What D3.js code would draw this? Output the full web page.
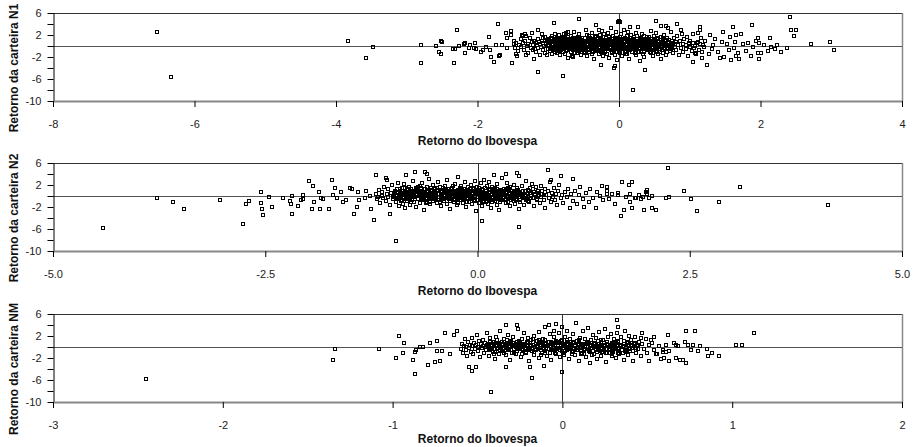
<!DOCTYPE html>
<html>
<head>
<meta charset="utf-8">
<script src="https://cdn.jsdelivr.net/npm/d3@7"></script>
<style>
  body { margin: 0; background: #fff; }
  svg { display: block; font-family: "Liberation Sans", Arial, sans-serif; }
</style>
</head>
<body>
<div id="chart"></div>
<script>
// [retorno do Ibovespa, retorno da carteira]
const n1Points = [
  [-6.53,2.5],[-6.33,-5.7],[-3.83,0.85],[-3.57,-2.1],[-3.47,-0.2],[-2.80,0.2],[-2.80,-3.1],[-2.58,0.0],[-2.54,-1.0],[-2.52,-1.5],
  [-2.51,1.0],[-2.50,0.8],[-2.35,-0.5],[-2.32,-0.5],[-2.33,-3.1],[-2.29,3.0],[-2.26,0.0],[-2.18,0.55],[-2.19,0.3],[-2.17,-1.3],
  [-2.12,-0.4],[-2.11,0.1],[-2.05,-0.4],[-2.03,0.6],[-2.02,-0.5],[-1.95,-1.0],[-1.92,-0.8],[-1.88,-0.2],[-1.84,1.55],[-1.82,-0.7],
  [-1.81,-2.05],[-1.76,-2.9],[-1.74,0.25],[-1.71,4.0],[-1.70,-1.8],[-1.68,-1.7],[-1.65,0.25],[-1.60,2.4],[-1.59,1.45],[-1.59,-0.3],
  [-1.53,2.7],[-1.52,2.0],[-1.51,-3.0],[-1.48,1.0],[-1.46,-1.5],[-1.44,-1.8],[-1.37,2.0],[-1.35,1.8],[-1.33,2.2],[-1.31,1.9],
  [-1.32,-1.6],[-1.23,2.4],[-1.20,-2.3],[-1.15,-4.65],[-1.14,3.0],[-1.09,2.2],[-1.07,1.5],[-1.02,-1.7],[-1.01,1.1],[-0.92,4.25],
  [-0.90,2.2],[-0.86,1.4],[-0.79,-5.45],[-0.78,2.1],[-0.72,2.5],[-0.70,1.3],[-0.65,-2.0],[-0.57,4.85],[-0.45,2.0],[-0.33,3.75],
  [-0.26,-3.4],[-0.28,3.0],[-0.21,2.1],
  [0.0,4.5],[0.02,4.3],[-0.02,4.3],[-0.07,-4.05],[-0.06,-3.6],[0.2,-8.05],[0.15,3.5],[0.37,-4.3],[0.53,4.55],[0.6,3.6],
  [0.66,3.7],[0.82,4.0],[0.88,3.0],[1.04,-2.9],[1.14,3.4],[1.14,2.9],[1.24,-3.4],[1.29,2.0],[1.47,2.55],[1.61,3.4],
  [1.57,1.6],[1.65,2.0],[1.70,-2.3],[1.66,-1.9],[1.72,2.1],[1.88,3.85],[1.93,1.0],[1.98,-2.45],[1.97,1.5],[1.98,0.6],
  [1.97,-1.2],[2.0,-1.3],[2.13,1.45],[2.15,-0.2],[2.29,-1.1],[2.38,-0.4],[2.42,5.2],[2.43,3.0],[2.5,3.0],[2.48,1.8],
  [2.72,0.4],[2.98,0.65],[3.04,-0.8],
  [1.31,-0.6],[1.36,1.3],[1.40,-1.1],[1.43,-2.1],[1.49,-2.0],[1.52,0.4],[1.55,-0.8],[1.58,-2.6],[1.62,-0.4],[1.64,0.8],
  [1.68,-1.2],[1.75,0.3],[1.79,-0.9],[1.83,0.5],[1.86,-1.8],[1.90,-0.2],[2.05,0.2],[2.10,-0.9],[2.20,-0.6],[2.24,0.1],
  [1.45,0.8],[1.33,0.1],[1.27,-1.5],[1.22,1.0],[1.20,-0.2],[1.18,-2.1],[1.10,0.6],[1.08,-1.3],[1.12,2.3],
  [-1.49,0.3],[-1.47,-0.4],[-1.45,0.6],[-1.43,-0.9],[-1.41,0.1],[-1.39,1.2],[-1.38,-0.2],[-1.36,0.5],[-1.34,-0.7],[-1.33,0.9],
  [-1.30,0.0],[-1.29,-1.2],[-1.28,0.4],[-1.26,1.4],[-1.25,-0.3],[-1.23,0.7],[-1.22,-0.8],[-1.21,0.2],[-1.20,1.0],[-1.19,-0.5],
  [-1.18,0.5],[-1.17,-1.1],[-1.16,0.1],[-1.15,1.3],[-1.14,-0.4],[-1.13,0.8],[-1.12,-1.6],[-1.11,0.3],[-1.10,-0.2],[-1.09,1.0],
  [-1.08,0.6],[-1.07,-0.7],[-1.06,0.0],[-1.05,1.6],[-1.04,-1.3],[-1.03,0.4],[-1.02,0.9],[-1.01,-0.5],[-1.00,0.2],[-0.99,1.2],
  [-0.98,-0.9],[-0.97,0.5],[-0.96,-0.1],[-0.95,1.8],[-0.94,-1.5],[-0.93,0.7],[-0.92,-0.3],[-0.91,0.3],[-0.90,1.1],[-0.89,-0.6],
  [-0.88,0.4],[-0.875,-1.2],[-0.87,1.5],[-0.865,0.0],[-0.86,-0.5],[-0.855,0.9],[-0.85,2.0],[-0.845,-0.2],[-0.84,0.6],[-0.835,-1.7],
  [-0.83,0.2],[-0.825,1.2],[-0.82,-0.8],[-0.815,0.5],[-0.81,-0.1],
  [-0.80,0.8],[-0.795,-1.0],[-0.79,0.3],[-0.785,1.6],[-0.78,-0.4],[-0.775,0.1],[-0.77,1.0],[-0.765,-1.4],[-0.76,0.6],[-0.755,-0.1],
  [-0.75,2.3],[-0.745,0.4],[-0.74,-0.7],[-0.735,1.3],[-0.73,0.0],[-0.72,-2.2],[-0.71,0.7],
  [-0.70,-0.3],[-0.695,1.1],[-0.69,0.2],[-0.685,-1.1],[-0.68,0.9],[-0.675,1.9],[-0.67,-0.5],[-0.665,0.4],[-0.66,-1.8],[-0.655,0.0],
  [-0.65,1.4],[-0.645,-0.8],[-0.64,0.6],[-0.635,2.6],[-0.63,-0.2],[-0.62,0.3],[-0.61,1.0],
  [-0.60,-0.6],[-0.595,0.8],[-0.59,-1.3],[-0.585,0.1],[-0.58,1.7],[-0.575,-0.3],[-0.57,0.5],[-0.565,2.2],[-0.56,-0.9],[-0.555,0.3],
  [-0.55,1.2],[-0.545,-0.1],[-0.54,-1.6],[-0.535,0.7],[-0.53,0.0],[-0.52,1.5],[-0.51,-0.4],
  [-0.50,0.9],[-0.495,-0.7],[-0.49,0.2],[-0.485,1.4],[-0.48,-1.2],[-0.475,0.5],[-0.47,2.9],[-0.465,-0.2],[-0.46,0.8],[-0.455,-1.9],
  [-0.45,0.1],[-0.445,1.1],[-0.44,-0.5],[-0.435,0.4],[-0.43,1.8],[-0.42,-1.0],[-0.41,0.6],
  [-0.40,-0.3],[-0.395,1.3],[-0.39,0.3],[-0.385,-1.4],[-0.38,0.7],[-0.375,2.4],[-0.37,-0.6],[-0.365,0.0],[-0.36,1.0],[-0.355,-2.4],
  [-0.35,0.5],[-0.345,-0.1],[-0.34,1.6],[-0.335,-0.9],[-0.33,0.2],[-0.32,0.9],[-0.31,-0.4],
  [-0.30,1.2],[-0.295,-0.8],[-0.29,0.4],[-0.285,-1.5],[-0.28,0.8],[-0.275,2.0],[-0.27,-0.2],[-0.265,0.6],[-0.26,-1.1],[-0.255,1.5],
  [-0.25,0.1],[-0.245,-0.5],[-0.24,2.7],[-0.235,0.3],[-0.23,-1.8],[-0.22,1.0],[-0.21,-0.3],
  [-0.20,0.5],[-0.195,-1.0],[-0.19,1.7],[-0.185,0.0],[-0.18,-0.6],[-0.175,1.1],[-0.17,0.3],[-0.165,-1.4],[-0.16,2.3],[-0.155,0.7],
  [-0.15,-0.2],[-0.145,1.3],[-0.14,-2.1],[-0.135,0.4],[-0.13,0.9],[-0.12,-0.7],[-0.11,3.2],
  [-0.10,0.2],[-0.095,-1.2],[-0.09,1.0],[-0.085,-0.4],[-0.08,1.9],[-0.075,0.6],[-0.07,-0.9],[-0.065,0.1],[-0.06,1.4],[-0.055,-1.7],
  [-0.05,0.8],[-0.045,-0.1],[-0.04,2.5],[-0.035,0.4],[-0.03,-2.6],[-0.02,1.1],[-0.01,-0.5],
  [0.00,0.7],[0.005,-0.8],[0.01,1.6],[0.015,0.2],[0.02,-1.3],[0.025,0.9],[0.03,-0.3],[0.035,2.1],[0.04,0.5],[0.045,-1.9],
  [0.05,1.2],[0.055,0.0],[0.06,-0.6],[0.065,3.0],[0.07,0.3],[0.08,1.5],[0.09,-1.0],
  [0.10,0.4],[0.105,-0.5],[0.11,1.8],[0.115,0.1],[0.12,-1.5],[0.125,0.8],[0.13,2.6],[0.135,-0.2],[0.14,1.1],[0.145,-2.3],
  [0.15,0.6],[0.155,-0.8],[0.16,1.4],[0.165,0.0],[0.17,2.0],[0.18,-1.1],[0.19,0.5],
  [0.20,1.0],[0.205,-0.4],[0.21,0.2],[0.215,1.7],[0.22,-1.2],[0.225,0.6],[0.23,-0.1],[0.235,2.4],[0.24,0.9],[0.245,-1.7],
  [0.25,0.3],[0.255,1.3],[0.26,-0.6],[0.265,0.0],[0.27,3.4],[0.28,0.7],[0.29,-2.8],
  [0.30,0.4],[0.305,1.5],[0.31,-0.9],[0.315,0.1],[0.32,2.2],[0.325,-0.3],[0.33,0.8],[0.335,-1.4],[0.34,1.1],[0.345,0.5],
  [0.35,-0.1],[0.355,1.9],[0.36,-2.0],[0.37,0.3],[0.38,1.3],[0.39,-0.6],
  [0.40,0.9],[0.41,-0.4],[0.42,1.6],[0.43,0.2],[0.44,-1.1],[0.45,0.7],[0.455,2.7],[0.46,-0.2],[0.47,1.2],[0.475,-1.8],
  [0.48,0.4],[0.49,-0.7],[0.495,1.9],
  [0.50,0.1],[0.51,1.0],[0.52,-0.9],[0.525,0.6],[0.53,2.3],[0.54,-0.3],[0.55,1.4],[0.555,-1.5],[0.56,0.3],[0.57,0.8],
  [0.58,-0.5],[0.59,1.7],[0.595,-2.4],
  [0.60,0.5],[0.61,-0.1],[0.62,1.3],[0.625,-1.2],[0.63,0.2],[0.64,2.0],[0.65,-0.6],[0.655,0.9],[0.66,-1.6],[0.67,0.4],
  [0.68,1.5],[0.69,-0.3],[0.695,3.3],
  [0.70,0.0],[0.71,1.1],[0.72,-0.9],[0.73,0.6],[0.74,2.5],[0.75,-0.4],[0.76,0.3],[0.77,-1.3],[0.78,1.4],[0.79,-0.2],
  [0.80,0.7],[0.81,-0.7],[0.82,1.8],[0.83,0.1],[0.85,-1.6],[0.86,0.9],[0.87,-0.3],[0.89,2.1],
  [0.90,0.4],[0.91,-1.1],[0.92,1.2],[0.94,-0.5],[0.95,0.2],[0.96,1.6],[0.97,-1.9],[0.99,0.6],
  [1.00,-0.2],[1.01,1.0],[1.03,-0.9],[1.04,0.5],[1.05,2.2],[1.06,-0.4],[1.07,0.0],[1.09,-1.4],
  [1.11,0.8],[1.13,-0.7],[1.15,0.3],[1.16,1.5],[1.17,-1.1],[1.19,0.1],
  [-0.985,0.0],[-0.965,1.4],[-0.945,-0.6],[-0.925,0.9],[-0.905,-1.0],[-0.885,0.2],[-0.865,1.1],[-0.845,-0.9],[-0.825,0.4],[-0.805,1.3],
  [-0.785,-0.6],[-0.765,0.9],[-0.745,-0.2],[-0.725,1.6],[-0.705,0.3],[-0.685,-0.6],[-0.665,1.2],[-0.645,0.1],[-0.625,-1.2],[-0.605,0.6],
  [-0.585,1.5],[-0.565,-0.5],[-0.545,0.5],[-0.525,-1.0],[-0.505,1.0],[-0.485,0.0],[-0.465,-0.8],[-0.445,0.7],[-0.425,1.3],[-0.405,-0.2],
  [-0.385,0.5],[-0.365,-1.0],[-0.345,0.9],[-0.325,1.8],[-0.305,0.0],[-0.285,-0.7],[-0.265,1.1],[-0.245,0.4],[-0.225,-1.3],[-0.205,0.7],
  [-0.185,1.5],[-0.165,-0.3],[-0.145,0.2],[-0.125,1.2],[-0.105,-1.1],[-0.085,0.6],[-0.065,-0.2],[-0.045,1.3],[-0.025,0.1],[-0.005,-1.1],
  [0.015,0.5],[0.035,1.3],[0.055,-0.4],[0.075,0.8],[0.095,-1.4],[0.115,1.1],[0.135,0.3],[0.155,-0.4],[0.175,1.5],[0.195,-0.2],
  [0.215,0.7],[0.235,-1.0],[0.255,1.9],[0.275,0.2],[0.295,-0.5],[0.315,1.0],[0.335,0.0],[0.355,-1.1],[0.375,0.9],[0.395,1.7],
  [0.415,-0.1],[0.435,0.5],[0.455,-1.3],[0.475,0.9],[0.495,0.2],[0.515,-0.6],[0.535,1.2],[0.555,0.0],[0.575,-1.0],[0.595,0.7],
  [0.615,1.5],[0.635,-0.4],[0.655,0.2],[0.675,-1.0],[0.705,0.7],[0.725,-0.2],[0.745,1.0],[0.765,-0.7],[0.785,0.4],
  [-0.95,0.3],[-0.91,-0.3],[-0.87,0.7],[-0.83,-0.4],[-0.79,1.0],[-0.75,0.1],[-0.71,-0.4],[-0.67,0.5],[-0.63,1.4],[-0.59,-0.2],
  [-0.55,0.7],[-0.51,0.1],[-0.47,-0.4],[-0.43,0.9],[-0.39,-0.6],[-0.35,1.2],[-0.31,0.5],[-0.27,-0.4],[-0.23,0.6],[-0.19,-0.2],
  [-0.15,1.0],[-0.11,0.3],[-0.07,-0.5],[-0.03,0.6],[0.01,-0.4],[0.05,0.3],[0.09,0.9],[0.13,-0.6],[0.17,0.4],[0.21,-0.5],
  [0.25,0.8],[0.29,1.2],[0.33,-0.4],[0.37,0.6],[0.41,-0.8],[0.45,0.1],[0.49,1.1],[0.53,-0.4],[0.57,0.4],[0.61,-0.7],
  [0.65,1.1],[0.69,0.1],[0.73,-0.5],[0.77,0.6],
  [-0.99,0.6],[-0.97,-0.3],[-0.955,1.0],[-0.935,0.1],[-0.915,-0.7],[-0.895,1.3],[-0.875,0.4],[-0.855,-0.4],[-0.835,1.0],[-0.815,-0.3],
  [-0.795,0.5],[-0.775,1.4],[-0.755,-0.9],[-0.735,0.6],[-0.715,0.0],[-0.695,0.8],[-0.675,-0.2],[-0.655,1.1],[-0.635,-0.6],[-0.615,0.2],
  [-0.595,1.2],[-0.575,0.3],[-0.555,-0.7],[-0.535,1.1],[-0.515,0.5],[-0.495,-1.0],[-0.475,0.9],[-0.455,0.2],[-0.435,-0.7],[-0.415,1.4],
  [-0.395,-0.2],[-0.375,0.8],[-0.355,0.1],[-0.335,1.3],[-0.315,-0.8],[-0.295,0.6],[-0.275,-0.1],[-0.255,1.2],[-0.235,-0.9],[-0.215,0.4],
  [-0.195,1.1],[-0.175,-0.5],[-0.155,0.4],[-0.135,1.6],[-0.115,-0.4],[-0.095,0.7],[-0.075,-0.7],[-0.055,0.5],[-0.035,1.4],[-0.015,-0.3],
  [0.005,0.3],[0.025,-0.6],[0.045,1.0],[0.065,-0.1],[0.085,0.7],[0.105,-0.9],[0.125,1.3],[0.145,0.0],[0.165,0.8],[0.185,-0.6],
  [0.205,1.3],[0.225,0.1],[0.245,-0.4],[0.265,0.9],[0.285,-1.0],[0.305,0.6],[0.325,1.3],[0.345,-0.6],[0.365,0.7],[0.385,-0.2],
  [0.405,1.2],[0.425,-0.6],[0.445,0.3],[0.465,1.0],[0.485,-0.4],[0.505,0.6],[0.525,-1.1],[0.545,0.9],[0.565,-0.2],[0.585,0.3]
];

const n2Points = [
  [-4.41,-5.9],[-3.78,-0.35],[-3.59,-1.0],[-3.46,-2.3],[-3.03,-0.65],[-2.76,-5.0],[-2.73,-1.5],[-2.69,-0.85],[-2.55,0.7],[-2.55,-1.3],
  [-2.54,-2.4],[-2.53,-3.5],[-2.45,-0.2],[-2.42,-2.0],[-2.29,-0.35],[-2.21,-0.9],[-2.20,-1.5],[-2.18,-3.3],[-2.19,0.05],[-2.11,-1.9],
  [-2.08,-0.8],[-2.06,-0.5],[-2.05,0.1],
  [-1.98,2.8],[-1.95,-2.3],[-1.94,1.8],[-1.92,-1.0],[-1.87,0.7],[-1.85,-2.3],[-1.84,-0.3],[-1.82,-0.6],[-1.75,-2.3],[-1.71,3.0],
  [-1.70,0.1],[-1.68,1.4],[-1.66,-0.3],[-1.61,0.8],[-1.59,-1.15],[-1.55,-0.65],[-1.50,1.5],[-1.48,1.2],[-1.46,-3.3],[-1.42,-2.0],
  [-1.41,0.8],[-1.39,-0.65],[-1.33,-0.4],[-1.31,0.9],[-1.27,0.05],[-1.26,-2.4],[-1.22,-4.4],[-1.20,3.8],[-1.17,-0.2],[-1.08,3.3],
  [-1.07,3.0],[-1.03,-3.3],[-0.96,-8.2],[-0.84,3.9],[-0.74,4.3],[-0.62,4.4],[-0.60,4.0],
  [0.05,-4.6],[0.49,-5.7],[0.47,4.2],[0.33,4.0],[0.83,4.7],[0.98,3.7],[0.87,2.9],[1.12,3.1],[1.47,1.8],[1.52,1.7],
  [1.70,2.6],[1.82,2.6],[1.79,2.0],[1.65,0.6],[1.53,0.4],[2.24,5.1],[2.43,0.85],[2.51,-0.5],[2.59,-2.8],[2.84,-1.0],
  [3.09,1.6],[4.13,-1.7],[2.22,-0.4],[2.25,-0.2],[2.02,-0.3],[2.05,0.0],[1.99,0.8],[2.0,1.1],[1.72,-2.6],[1.69,-3.6],
  [1.82,-2.2],[1.96,-2.6],[2.05,-2.2],[2.10,-2.6],[1.87,-0.3],[1.92,-0.5],[1.80,-1.1],
  [-1.19,0.4],[-1.18,-0.6],[-1.16,1.1],[-1.15,-1.3],[-1.13,0.0],[-1.12,0.8],[-1.11,-0.3],[-1.10,1.6],
  [-1.08,-0.9],[-1.07,0.3],[-1.06,1.3],[-1.05,-0.1],[-1.03,-1.7],[-1.02,0.6],[-1.01,2.0],[-1.00,-0.5],
  [-0.98,0.2],[-0.97,1.0],[-0.96,-1.1],[-0.95,0.5],[-0.94,2.4],[-0.93,-0.2],[-0.92,-1.8],[-0.91,0.9],
  [-0.90,0.1],[-0.895,-0.7],[-0.89,1.4],[-0.88,0.5],[-0.875,-1.4],[-0.87,2.1],[-0.86,-0.2],[-0.855,0.8],[-0.85,-2.2],[-0.84,0.3],
  [-0.835,1.1],[-0.83,-0.9],[-0.82,0.0],[-0.81,1.7],
  [-0.80,-0.4],[-0.795,0.6],[-0.79,-1.6],[-0.78,1.2],[-0.775,0.2],[-0.77,-0.8],[-0.76,2.7],[-0.755,0.4],[-0.75,-1.1],[-0.74,0.9],
  [-0.735,-0.2],[-0.73,1.5],[-0.72,-2.0],[-0.71,0.1],
  [-0.70,1.0],[-0.695,-0.5],[-0.69,0.3],[-0.68,1.9],[-0.675,-1.3],[-0.67,0.7],[-0.66,-0.1],[-0.655,2.3],[-0.65,-0.8],[-0.64,0.5],
  [-0.635,-2.5],[-0.63,1.2],[-0.62,0.0],[-0.61,-0.6],
  [-0.60,0.8],[-0.595,-1.0],[-0.59,1.6],[-0.58,0.2],[-0.575,-0.4],[-0.57,3.1],[-0.56,0.6],[-0.555,-1.5],[-0.55,1.1],[-0.54,-0.2],
  [-0.535,0.4],[-0.53,2.0],[-0.52,-0.9],[-0.51,0.1],
  [-0.50,-0.3],[-0.495,1.3],[-0.49,0.5],[-0.48,-1.2],[-0.475,0.9],[-0.47,-0.1],[-0.46,2.6],[-0.455,-0.7],[-0.45,0.3],[-0.44,1.7],
  [-0.435,-1.9],[-0.43,0.7],[-0.42,0.0],[-0.41,-0.5],
  [-0.40,1.1],[-0.395,0.2],[-0.39,-0.9],[-0.38,1.8],[-0.375,-0.3],[-0.37,0.6],[-0.36,-1.4],[-0.355,2.9],[-0.35,0.4],[-0.34,-0.6],
  [-0.33,1.3],[-0.325,0.0],[-0.32,-2.3],[-0.31,0.9],
  [-0.30,-0.2],[-0.295,1.5],[-0.29,0.3],[-0.28,-1.1],[-0.275,0.8],[-0.27,2.2],[-0.26,-0.5],[-0.255,0.1],[-0.25,1.0],[-0.24,-1.7],
  [-0.235,0.5],[-0.23,3.5],[-0.22,-0.3],[-0.21,1.4],[-0.205,0.0],
  [-0.20,-0.8],[-0.195,0.7],[-0.19,1.9],[-0.18,-0.1],[-0.175,-1.3],[-0.17,0.4],[-0.16,1.2],[-0.155,-0.6],[-0.15,2.5],[-0.14,0.2],
  [-0.135,-2.0],[-0.13,0.9],[-0.12,-0.3],[-0.11,1.6],[-0.105,0.5],
  [-0.10,-1.0],[-0.095,0.1],[-0.09,1.3],[-0.08,-0.4],[-0.075,2.0],[-0.07,0.6],[-0.06,-1.5],[-0.055,0.3],[-0.05,1.0],[-0.04,-0.7],
  [-0.035,2.8],[-0.03,0.0],[-0.02,-2.7],[-0.01,0.8],[-0.005,1.7],
  [0.00,-0.2],[0.01,0.5],[0.015,-1.2],[0.02,1.5],[0.03,0.1],[0.035,-0.6],[0.04,2.3],[0.05,0.7],[0.055,-1.8],[0.06,0.3],
  [0.07,1.1],[0.075,-0.3],[0.08,3.0],[0.09,0.4],[0.095,-1.0],
  [0.10,0.9],[0.105,-0.5],[0.11,1.9],[0.12,0.0],[0.125,-1.4],[0.13,0.6],[0.14,2.6],[0.145,-0.2],[0.15,1.2],[0.16,-2.2],
  [0.165,0.3],[0.17,1.6],[0.18,-0.8],[0.19,0.8],[0.195,3.8],
  [0.20,0.1],[0.205,-0.9],[0.21,1.4],[0.22,0.5],[0.225,-1.6],[0.23,2.1],[0.24,-0.3],[0.245,0.9],[0.25,-2.6],[0.26,0.2],
  [0.27,1.1],[0.28,-0.6],[0.29,3.3],[0.295,0.6],
  [0.30,-0.4],[0.31,1.3],[0.32,0.2],[0.33,-1.2],[0.34,0.8],[0.35,2.4],[0.36,-0.1],[0.37,0.5],[0.38,-1.9],[0.385,1.7],
  [0.39,0.0],[0.395,-0.7],
  [0.40,1.0],[0.41,-0.3],[0.42,0.4],[0.43,2.0],[0.44,-1.4],[0.45,0.7],[0.46,-0.5],[0.47,1.5],[0.48,0.1],[0.485,-2.3],
  [0.49,3.6],[0.495,0.6],
  [0.50,-0.8],[0.51,0.3],[0.52,1.8],[0.53,-0.2],[0.54,0.9],[0.55,-1.6],[0.56,0.2],[0.57,2.7],[0.58,-0.6],[0.59,1.1],[0.595,-0.1],
  [0.60,0.5],[0.61,-1.1],[0.62,1.4],[0.63,0.0],[0.64,2.2],[0.65,-0.4],[0.66,0.8],[0.67,-1.8],[0.68,0.3],[0.69,1.6],
  [0.70,-0.5],[0.71,0.9],[0.73,0.1],[0.74,-1.3],[0.75,1.9],[0.76,0.4],[0.78,-0.7],[0.79,1.2],
  [0.80,-2.1],[0.81,0.2],[0.83,1.0],[0.84,-0.3],[0.85,2.5],[0.86,-1.1],[0.88,0.6],[0.89,-0.1],
  [0.90,1.4],[0.91,-0.8],[0.93,0.3],[0.94,-1.7],[0.95,0.9],[0.96,2.0],[0.98,-0.4],[0.99,0.1],
  [1.01,-1.3],[1.03,0.7],[1.05,-0.2],[1.07,1.3],[1.09,-2.1],[1.10,0.4],[1.13,-0.9],[1.15,0.9],[1.17,-1.5],[1.19,0.2],
  [1.21,1.6],[1.24,-0.6],[1.26,-2.0],[1.28,0.5],[1.31,-1.0],[1.33,1.2],[1.36,-0.3],[1.39,-2.2],[1.41,0.8],[1.44,0.0],
  [1.48,-0.7],[1.52,1.0],[1.55,-0.5],[1.58,0.3],[1.62,-1.4],[1.65,0.1],[1.75,-0.2],[1.80,0.4],[1.85,-0.3],[1.90,0.2],
  [1.95,-0.2],[2.0,0.3],
  [-0.985,0.5],[-0.965,-0.4],[-0.945,1.2],[-0.925,0.0],[-0.905,-0.9],[-0.885,0.9],[-0.865,0.3],[-0.845,-0.5],[-0.825,1.3],[-0.805,0.2],
  [-0.785,-1.0],[-0.765,0.8],[-0.745,0.0],[-0.725,1.1],[-0.705,-0.6],[-0.685,0.5],[-0.665,1.5],[-0.645,-0.3],[-0.625,0.4],[-0.605,-1.2],
  [-0.585,0.9],[-0.565,0.0],[-0.545,1.4],[-0.525,-0.5],[-0.505,0.6],[-0.485,-0.1],[-0.465,1.1],[-0.445,-1.0],[-0.425,0.4],[-0.405,1.5],
  [-0.385,-0.4],[-0.365,0.2],[-0.345,1.0],[-0.325,-0.9],[-0.305,0.5],[-0.285,1.8],[-0.265,-0.2],[-0.245,0.7],[-0.225,-1.2],[-0.205,0.3],
  [-0.185,1.2],[-0.165,-0.4],[-0.145,0.6],[-0.125,-1.1],[-0.105,1.0],[-0.085,0.1],[-0.065,-0.5],[-0.045,1.5],[-0.025,0.4],[-0.005,-0.8],
  [0.015,0.9],[0.035,0.0],[0.055,1.3],[0.075,-0.9],[0.095,0.5],[0.115,-0.3],[0.135,1.1],[0.155,0.2],[0.175,-1.1],[0.195,0.7],
  [0.215,-0.2],[0.235,1.3],[0.255,0.4],[0.275,-0.8],[0.295,0.8],[0.315,-0.1],[0.335,1.2],[0.355,-1.0],[0.375,0.3],[0.395,1.0],
  [0.415,-0.6],[0.435,0.6],[0.455,-0.1],[0.475,1.1],[0.495,-1.0],[0.515,0.4],[0.535,-0.4],[0.555,1.0],[0.575,0.0],[0.595,-0.9],
  [0.615,0.6],[0.635,-0.3],[0.655,1.2],[0.675,0.2],[0.705,-0.8],[0.725,0.5],[0.745,-0.2],[0.765,1.0],[0.785,0.1],
  [-0.95,-0.3],[-0.91,0.6],[-0.87,-0.2],[-0.83,0.7],[-0.79,0.0],[-0.75,0.5],[-0.71,1.3],[-0.67,-0.4],[-0.63,0.8],[-0.59,0.1],
  [-0.55,-0.6],[-0.51,0.9],[-0.47,0.3],[-0.43,-0.3],[-0.39,0.6],[-0.35,-0.2],[-0.31,1.2],[-0.27,0.1],[-0.23,-0.6],[-0.19,0.5],
  [-0.15,-0.1],[-0.11,0.8],[-0.07,-0.3],[-0.03,0.4],[0.01,1.1],[0.05,-0.4],[0.09,0.2],[0.13,-0.7],[0.17,0.9],[0.21,0.0],
  [0.25,-0.5],[0.29,0.2],[0.33,-0.5],[0.37,1.3],[0.41,0.3],[0.45,-0.8],[0.49,0.5],[0.53,0.0],[0.57,-0.7],[0.61,0.9],
  [-0.99,-0.2],[-0.97,0.8],[-0.955,0.1],[-0.935,-0.6],[-0.915,1.2],[-0.895,0.3],[-0.875,-0.4],[-0.855,1.5],[-0.835,-0.1],[-0.815,0.6],
  [-0.795,-0.7],[-0.775,1.0],[-0.755,0.2],[-0.735,-0.5],[-0.715,0.8],[-0.695,1.6],[-0.675,0.0],[-0.655,-0.6],[-0.635,0.6],[-0.615,1.3],
  [-0.595,-0.3],[-0.575,0.4],[-0.555,-1.0],[-0.535,0.9],[-0.515,0.2],[-0.495,-0.6],[-0.475,1.4],[-0.455,0.4],[-0.435,-0.2],[-0.415,0.9],
  [-0.395,-0.6],[-0.375,1.1],[-0.355,0.0],[-0.335,0.6],[-0.315,-0.5],[-0.295,0.9],[-0.275,-0.8],[-0.255,0.5],[-0.235,1.1],[-0.215,-0.1],
  [-0.195,0.3],[-0.175,-0.8],[-0.155,1.0],[-0.135,0.1],[-0.115,-0.5],[-0.095,0.9],[-0.075,-0.1],[-0.055,1.2],[-0.035,-0.9],[-0.015,0.3],
  [0.005,0.9],[0.025,-0.4],[0.045,0.4],[0.065,-1.0],[0.085,1.4],[0.105,0.2],[0.125,-0.6],[0.145,0.7],[0.165,-0.3],[0.185,1.2],
  [0.205,0.4],[0.225,-0.5],[0.245,0.6],[0.265,-1.1],[0.285,1.0],[0.305,0.1],[0.325,-0.7],[0.345,0.5],[0.365,1.4],[0.385,-0.4],
  [0.405,0.5],[0.425,-0.9],[0.445,0.9],[0.465,0.0],[0.485,0.7]
];

const nmPoints = [
  [-2.45,-5.9],[-1.34,-0.35],[-1.35,-2.35],[-1.08,-0.35],[-0.96,2.0],[-0.98,-2.05],[-0.94,-1.15],[-0.93,0.8],[-0.88,-2.35],[-0.87,-4.9],
  [-0.87,-0.9],[-0.86,-0.5],[-0.84,-0.05],[-0.82,0.0],[-0.79,-3.3],[-0.78,0.8],[-0.75,-2.65],[-0.74,1.1],[-0.74,-0.8],[-0.72,-2.55],
  [-0.71,-0.8],[-0.69,2.5],[-0.66,-1.2],[-0.64,2.1],[-0.62,2.9],[-0.53,-4.4],[-0.51,-3.6],[-0.55,-3.6],[-0.42,-8.2],[-0.33,4.05],
  [-0.27,4.05],[-0.33,-3.6],[-0.18,-5.6],[-0.19,-3.6],[-0.11,-3.5],[0.0,-4.5],[-0.08,4.0],[-0.05,3.0],[-0.02,2.6],[0.0,3.7],
  [0.32,4.9],[0.33,3.7],[0.73,3.0],[0.78,3.0],[0.62,2.1],[1.13,2.6],[1.02,0.45],[1.06,0.45],[0.85,-0.3],[0.92,-1.6],
  [0.88,-1.0],[0.86,-1.6],[0.81,0.2],[0.77,0.45],[0.76,-0.6],[0.73,-2.85],[0.71,-2.4],[0.67,0.45],[0.68,0.1],[0.67,-2.0],
  [0.69,-2.3],[0.63,-0.65],[0.59,-0.9],[0.61,-0.9],[0.58,-2.1],[0.60,-2.0],[0.55,-1.3],[0.51,-2.5],[0.63,-2.5],[0.52,1.25],
  [0.54,1.75],[0.47,2.6],[0.46,1.6],
  [-0.60,-0.3],[-0.59,0.6],[-0.585,-1.0],[-0.58,0.2],[-0.575,1.4],[-0.57,-0.5],[-0.565,0.0],[-0.56,-1.6],
  [-0.555,0.9],[-0.55,-0.2],[-0.545,0.4],[-0.54,-0.9],[-0.535,1.6],[-0.53,0.1],[-0.525,-1.3],[-0.52,0.7],
  [-0.515,-0.4],[-0.51,0.3],[-0.505,2.2],[-0.50,-0.7],[-0.495,0.0],[-0.49,1.1],[-0.485,-1.9],[-0.48,0.5],
  [-0.475,-0.2],[-0.47,1.3],[-0.465,0.2],[-0.46,-1.1],[-0.455,0.8],[-0.45,-0.5],[-0.445,2.6],[-0.44,0.0],[-0.435,-1.6],[-0.43,0.6],
  [-0.425,1.7],[-0.42,-0.3],
  [-0.415,0.4],[-0.41,-0.9],[-0.405,1.0],[-0.40,0.1],[-0.395,-2.1],[-0.39,1.9],[-0.385,-0.4],[-0.38,0.7],[-0.375,-1.2],[-0.37,0.2],
  [-0.365,2.9],[-0.36,-0.1],
  [-0.355,0.9],[-0.35,-0.7],[-0.345,1.5],[-0.34,0.3],[-0.335,-1.5],[-0.33,0.6],[-0.325,-0.2],[-0.32,2.2],[-0.315,0.0],[-0.31,-2.4],
  [-0.305,1.1],[-0.30,-0.5],
  [-0.295,0.4],[-0.29,1.8],[-0.285,-0.9],[-0.28,0.2],[-0.275,-1.3],[-0.27,1.0],[-0.265,0.0],[-0.26,3.3],[-0.255,-0.4],[-0.25,0.7],
  [-0.245,-1.8],[-0.24,1.4],
  [-0.235,0.1],[-0.23,-0.6],[-0.225,2.5],[-0.22,0.5],[-0.215,-1.1],[-0.21,0.9],[-0.205,-0.2],[-0.20,1.7],[-0.195,-2.6],[-0.19,0.3],
  [-0.185,1.2],[-0.18,-0.8],
  [-0.175,0.4],[-0.17,-1.4],[-0.165,2.0],[-0.16,0.0],[-0.155,-0.5],[-0.15,1.1],[-0.145,0.6],[-0.14,-2.0],[-0.135,2.8],[-0.13,-0.2],
  [-0.125,0.8],[-0.12,-1.0],
  [-0.115,1.5],[-0.11,0.2],[-0.105,-0.7],[-0.10,3.6],[-0.095,0.5],[-0.09,-1.6],[-0.085,1.0],[-0.08,-0.3],[-0.075,2.3],[-0.07,0.1],
  [-0.065,-2.3],[-0.06,0.7],
  [-0.055,-0.6],[-0.05,1.8],[-0.045,0.3],[-0.04,-1.2],[-0.035,4.1],[-0.03,0.9],[-0.025,-0.1],[-0.02,2.6],[-0.015,-1.8],[-0.01,0.4],
  [-0.005,1.3],[0.0,-0.8],
  [0.005,0.6],[0.01,-1.5],[0.015,1.9],[0.02,0.0],[0.025,3.0],[0.03,-0.5],[0.035,0.9],[0.04,-2.1],[0.045,1.4],[0.05,0.2],
  [0.055,-0.9],[0.06,2.4],
  [0.065,-0.2],[0.07,0.7],[0.075,-1.4],[0.08,4.3],[0.085,1.1],[0.09,-0.6],[0.095,0.3],[0.10,-2.5],[0.105,1.7],[0.11,0.0],
  [0.115,-1.0],[0.12,2.9],
  [0.125,0.5],[0.13,-0.3],[0.135,1.5],[0.14,-1.9],[0.145,0.8],[0.15,3.5],[0.155,-0.7],[0.16,0.2],[0.165,-2.9],[0.17,1.2],
  [0.175,-0.1],[0.18,2.1],
  [0.185,-1.2],[0.19,0.6],[0.195,-0.4],[0.20,1.6],[0.205,-2.2],[0.21,0.1],[0.215,2.7],[0.22,-0.8],[0.225,0.9],[0.23,-1.6],
  [0.235,0.3],[0.24,1.3],
  [0.245,-0.5],[0.25,3.2],[0.255,-2.7],[0.26,0.6],[0.265,-1.1],[0.27,1.9],[0.275,0.0],[0.28,-0.4],[0.285,2.3],[0.29,-1.7],
  [0.295,0.8],
  [0.30,-0.9],[0.305,1.4],[0.31,0.2],[0.315,-2.0],[0.32,2.6],[0.325,-0.3],[0.33,0.9],[0.335,-1.3],[0.34,0.4],[0.345,1.8],
  [0.35,-0.6],[0.355,0.1],[0.36,-2.3],[0.365,1.1],[0.37,3.0],[0.375,-0.2],[0.38,0.7],[0.385,-1.5],[0.39,2.0],[0.395,0.3],
  [0.40,-0.8],[0.405,1.3],[0.41,-0.1],[0.415,-2.6],[0.42,0.6],[0.43,1.9],[0.435,-1.1],[0.44,0.2],[0.445,-0.4],[0.45,1.0],
  [0.46,-1.7],[0.47,0.5],[0.48,-0.3],[0.49,1.5],[0.50,-1.0],[0.51,0.3],
  [0.53,0.8],[0.54,-0.5],[0.56,-1.3],[0.57,0.1],[0.59,-0.6],[0.61,0.4],[0.66,0.7],[0.72,1.0],[0.74,0.3],[0.80,-0.7],
  [-0.445,0.3],[-0.435,-0.6],[-0.425,0.9],[-0.415,-0.1],[-0.405,0.5],[-0.395,-0.9],[-0.385,1.2],[-0.375,0.1],[-0.365,-0.5],[-0.355,0.6],
  [-0.345,-1.1],[-0.335,0.2],[-0.325,1.3],[-0.315,-0.4],[-0.305,0.5],[-0.295,-1.0],[-0.285,0.8],[-0.275,0.0],[-0.265,-0.7],[-0.255,1.1],
  [-0.245,0.3],[-0.235,-1.2],[-0.225,0.6],[-0.215,-0.1],[-0.205,1.0],[-0.195,-0.6],[-0.185,0.2],[-0.175,1.4],[-0.165,-0.9],[-0.155,0.5],
  [-0.145,-0.3],[-0.135,0.9],[-0.125,-1.4],[-0.115,0.3],[-0.105,1.2],[-0.095,-0.4],[-0.085,0.4],[-0.075,-1.1],[-0.065,0.9],[-0.055,0.0],
  [-0.045,-0.8],[-0.035,1.1],[-0.025,0.3],[-0.015,-0.5],[-0.005,0.8],[0.005,-1.0],[0.015,0.2],[0.025,1.2],[0.035,-0.3],[0.045,0.5],
  [0.055,-1.3],[0.065,0.9],[0.075,0.1],[0.085,-0.6],[0.095,1.3],[0.105,-0.2],[0.115,0.6],[0.125,-1.2],[0.135,0.2],[0.145,1.0],
  [0.155,-0.5],[0.165,0.4],[0.175,-1.5],[0.185,0.8],[0.195,0.0],[0.205,-0.9],[0.215,0.5],[0.225,1.3],[0.235,-0.4],[0.245,0.2],
  [0.255,-1.0],[0.265,0.9],[0.275,-0.3],[0.285,0.4],[0.295,-1.3],[0.305,0.6],[0.315,-0.2],[0.325,1.1],[0.335,-0.7],[0.345,0.3],
  [0.355,-1.0],[0.365,0.5],[0.375,-0.5],[0.385,0.9],[0.395,-0.3],[0.405,0.3],[0.415,-0.8],[0.425,0.7],[0.435,-0.2],[0.445,0.4],
  [-0.43,-0.2],[-0.39,0.4],[-0.35,-0.3],[-0.31,0.8],[-0.27,-0.3],[-0.23,0.3],[-0.19,-0.3],[-0.15,0.2],[-0.11,-0.2],[-0.07,0.5],
  [-0.03,-0.3],[0.01,0.4],[0.05,-0.4],[0.09,0.6],[0.13,-0.6],[0.17,0.3],[0.21,-0.5],[0.25,0.4],[0.29,-0.6],[0.33,0.2],
  [0.37,-0.7],[0.41,0.1],
  [-0.44,0.6],[-0.428,-0.4],[-0.416,0.2],[-0.404,-1.2],[-0.392,0.8],[-0.38,-0.2],[-0.368,0.5],[-0.356,-0.8],[-0.344,1.0],[-0.332,0.0],
  [-0.32,-0.6],[-0.308,0.9],[-0.296,0.1],[-0.284,-1.0],[-0.272,0.6],[-0.26,-0.2],[-0.248,1.0],[-0.236,-0.4],[-0.224,0.2],[-0.212,-0.9],
  [-0.2,0.7],[-0.188,-0.1],[-0.176,0.9],[-0.164,-0.6],[-0.152,0.1],[-0.14,1.2],[-0.128,-0.5],[-0.116,0.6],[-0.104,-1.1],[-0.092,0.2],
  [-0.08,1.0],[-0.068,-0.4],[-0.056,0.4],[-0.044,-1.0],[-0.032,0.7],[-0.02,-0.1],[-0.008,1.1],[0.004,0.1],[0.016,-0.7],[0.028,0.6],
  [0.04,-0.1],[0.052,1.0],[0.064,-0.8],[0.076,0.4],[0.088,-0.2],[0.1,0.9],[0.112,-1.2],[0.124,0.3],[0.136,-0.4],[0.148,0.6],
  [0.16,-0.9],[0.172,0.7],[0.184,0.0],[0.196,-0.6],[0.208,1.1],[0.22,0.2],[0.232,-0.9],[0.244,0.7],[0.256,-0.3],[0.268,0.4],
  [0.28,-1.1],[0.292,0.5],[0.304,-0.4],[0.316,0.8],[0.328,-1.0],[0.34,0.1],[0.352,-0.5],[0.364,0.6],[0.376,-0.9],[0.388,0.4],
  [0.40,-0.4],[0.412,0.8]
];

const n1XTicks = [-8, -6, -4, -2, 0, 2, 4];
const n2XTicks = [-5, -2.5, 0, 2.5, 5];
const nmXTicks = [-3, -2, -1, 0, 1, 2];
const yTicks = [6, 4, 2, 0, -2, -4, -6, -8, -10];
const yTickLabels = [6, 2, -2, -6, -10];

const panels = [
  { points: n1Points, xDomain: [-8, 4], xTicks: n1XTicks, fmt: d => String(d), yTitle: "Retorno da carteira N1", top: 13 },
  { points: n2Points, xDomain: [-5, 5], xTicks: n2XTicks, fmt: d => d.toFixed(1), yTitle: "Retorno da carteira N2", top: 163 },
  { points: nmPoints, xDomain: [-3, 2], xTicks: nmXTicks, fmt: d => String(d), yTitle: "Retorno da carteira NM", top: 314 }
];

const width = 913, height = 447;
const left = 53, right = 902, plotH = 88;
const font = "'Liberation Sans', Arial, sans-serif";

const svg = d3.select("#chart").append("svg")
  .attr("width", width).attr("height", height);

panels.forEach(p => {
  const x = d3.scaleLinear().domain(p.xDomain).range([left, right]);
  const y = d3.scaleLinear().domain([-10, 6]).range([p.top + plotH, p.top]);
  const g = svg.append("g");

  // frame: top and right
  g.append("line")
    .attr("x1", left).attr("x2", right).attr("y1", y(6) + 0.5).attr("y2", y(6) + 0.5)
    .attr("stroke", "#333").attr("stroke-width", 1);
  g.append("line")
    .attr("x1", right + 0.5).attr("x2", right + 0.5).attr("y1", y(6)).attr("y2", y(-10))
    .attr("stroke", "#888").attr("stroke-width", 1.5);

  // zero lines
  g.append("line")
    .attr("x1", left).attr("x2", right).attr("y1", Math.round(y(0)) + 0.5).attr("y2", Math.round(y(0)) + 0.5)
    .attr("stroke", "#555").attr("stroke-width", 1.2);
  g.append("line")
    .attr("x1", Math.round(x(0)) + 0.5).attr("x2", Math.round(x(0)) + 0.5).attr("y1", y(6)).attr("y2", y(-10))
    .attr("stroke", "#333").attr("stroke-width", 1);

  // points: small hollow squares
  g.append("g").selectAll("rect")
    .data(p.points).enter().append("rect")
    .attr("x", d => Math.round(x(d[0])) - 1.5)
    .attr("y", d => Math.round(y(d[1])) - 1.5)
    .attr("width", 3).attr("height", 3)
    .attr("fill", "none").attr("stroke", "#000").attr("stroke-width", 1);

  // y axis
  const yAxis = g.append("g")
    .attr("transform", `translate(${left + 0.5},0)`)
    .call(d3.axisLeft(y).tickValues(yTicks).tickSize(6).tickSizeOuter(0).tickPadding(6)
      .tickFormat(d => yTickLabels.includes(d) ? String(d) : ""));
  yAxis.select(".domain").attr("stroke", "#000");
  yAxis.selectAll(".tick line").attr("stroke", "#000");
  yAxis.selectAll("text").attr("font-size", 11).attr("fill", "#222").attr("font-family", font);

  // x axis
  const xAxis = g.append("g")
    .attr("transform", `translate(0,${y(-10)})`)
    .call(d3.axisBottom(x).tickValues(p.xTicks).tickSize(6).tickSizeOuter(0).tickPadding(13)
      .tickFormat(p.fmt));
  xAxis.select(".domain").attr("stroke", "#888").attr("stroke-width", 2);
  xAxis.selectAll(".tick line").attr("stroke", "#000");
  xAxis.selectAll("text").attr("font-size", 11).attr("fill", "#222").attr("font-family", font);

  // titles
  g.append("text")
    .attr("x", (left + right) / 2).attr("y", Math.min(p.top + 132, height - 4))
    .attr("text-anchor", "middle")
    .attr("font-size", 12).attr("font-weight", "bold").attr("fill", "#111")
    .text("Retorno do Ibovespa");

  g.append("text")
    .attr("transform", `translate(18,${p.top + 55}) rotate(-90)`)
    .attr("text-anchor", "middle")
    .attr("font-size", 12).attr("font-weight", "bold").attr("fill", "#111")
    .text(p.yTitle);
});
</script>
</body>
</html>
